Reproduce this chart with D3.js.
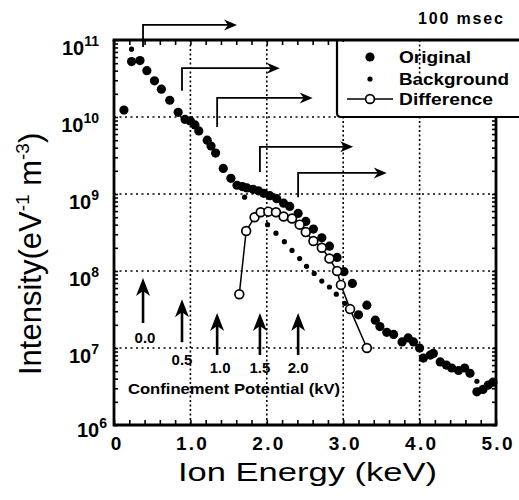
<!DOCTYPE html>
<html>
<head>
<meta charset="utf-8">
<script src="https://cdn.jsdelivr.net/npm/d3@7"></script>
<style>
  body { margin: 0; background: #fff; }
  svg { display: block; }
  text { fill: #000; }
</style>
</head>
<body>
<svg id="chart" width="519" height="500"></svg>
<script>
// Ion energy spectra at 100 msec: measured, background fit and their difference.
const originalEnergy = [0.13, 0.23, 0.34, 0.43, 0.53, 0.62, 0.73, 0.84, 0.93, 1.00, 1.06, 1.11, 1.22, 1.27, 1.33,
  1.43, 1.53, 1.61, 1.68, 1.74, 1.82, 1.89, 1.96, 2.04, 2.13, 2.22, 2.30, 2.41, 2.51, 2.61, 2.72, 2.82, 2.92,
  3.01, 3.12, 3.20, 3.31, 3.42, 3.48, 3.57, 3.66, 3.77, 3.85, 3.92, 4.00, 4.05, 4.14, 4.18, 4.27, 4.35, 4.42,
  4.51, 4.59, 4.66, 4.75, 4.83, 4.90, 4.96];
const originalIntensity = [1.23e10, 5.25e10, 5.4e10, 4.0e10, 2.95e10, 2.3e10, 1.65e10, 1.15e10, 9.3e9, 8.9e9, 7.9e9,
  6.6e9, 5.0e9, 4.2e9, 3.4e9, 2.15e9, 1.6e9, 1.3e9, 1.25e9, 1.2e9, 1.15e9, 1.1e9, 1.02e9, 9.5e8, 8.7e8, 7.6e8,
  6.9e8, 5.6e8, 4.4e8, 3.5e8, 2.7e8, 2.1e8, 1.5e8, 9.8e7, 6.9e7, 2.7e7, 3.6e7, 2.3e7, 1.9e7, 1.6e7, 1.5e7, 1.2e7,
  1.35e7, 1.2e7, 1.0e7, 7.4e6, 8.1e6, 8.5e6, 6.6e6, 6.0e6, 5.5e6, 5.1e6, 5.5e6, 4.7e6, 2.7e6, 2.9e6, 3.3e6, 3.6e6];

const backgroundEnergy = [0.23, 1.71, 2.01, 2.12, 2.23, 2.33, 2.43, 2.52, 2.62, 2.72, 2.82, 2.91, 3.02, 4.75];
const backgroundIntensity = [7.6e10, 9.1e8, 4.0e8, 3.1e8, 2.4e8, 1.85e8, 1.45e8, 1.15e8, 9.3e7, 7.4e7, 6.2e7,
  5.0e7, 3.8e7, 3.7e6];

const differenceEnergy = [1.64, 1.73, 1.84, 1.92, 2.02, 2.12, 2.22, 2.33, 2.43, 2.51, 2.61, 2.72, 2.82, 2.92,
  2.97, 3.09, 3.31];
const differenceIntensity = [5.0e7, 3.3e8, 5.0e8, 5.8e8, 5.9e8, 5.8e8, 5.1e8, 4.8e8, 4.0e8, 3.2e8, 2.45e8,
  2.0e8, 1.45e8, 1.0e8, 6.6e7, 3.2e7, 1.0e7];

// Confinement potentials (kV) and the ion energy each one marks
const potentialLabels = ["0.0", "0.5", "1.0", "1.5", "2.0"];
const potentialEnergy = [0.38, 0.89, 1.35, 1.91, 2.41];
// upward arrows: tip intensity of each arrow
const arrowTipIntensity = [8.1e7, 4.3e7, 2.85e7, 2.85e7, 2.85e7];
// bracket arrows: top and foot intensity, and energy where the arrow ends
const bracketTop = [1.57e11, 4.3e10, 1.77e10, 4.1e9, 1.88e9];
const bracketFoot = [8.1e10, 2.2e10, 7.4e9, 1.93e9, 9.1e8];
const bracketEnd = [1.61, 2.17, 2.60, 3.13, 3.57];

const xTicks = [0, 1, 2, 3, 4, 5];
const xTickLabels = ["0", "1.0", "2.0", "3.0", "4.0", "5.0"];
const yTickExponents = [6, 7, 8, 9, 10, 11];

const svg = d3.select("#chart");
const x = d3.scaleLinear().domain([0, 5]).range([114, 496]);
const y = d3.scaleLog().domain([1e6, 1e11]).range([425, 40]);
const [x0, x1] = x.range();
const [yB, yT] = y.range();
const legendBottom = y(1e10);
const legendLeft = 337;

// dotted grid
const grid = svg.append("g").attr("stroke", "#000").attr("stroke-width", 1.6);
grid.selectAll("line.v").data([1, 2, 3, 4]).join("line")
  .attr("stroke-dasharray", "2,2.5")
  .attr("x1", d => x(d)).attr("x2", d => x(d)).attr("y1", yT).attr("y2", yB);
grid.selectAll("line.h").data([1e7, 1e8, 1e9, 1e10]).join("line")
  .attr("stroke-dasharray", "2,3.5")
  .attr("x1", x0).attr("x2", x1).attr("y1", d => y(d)).attr("y2", d => y(d));

// minor / major ticks pointing inward
const minorLog = [];
for (let e = 6; e < 11; e++) for (let m = 1; m < 10; m++) minorLog.push(m * Math.pow(10, e));
minorLog.push(1e11);
const minorLin = d3.range(0, 5.001, 0.2);
function styleAxis(g) {
  g.select(".domain").remove();
  g.selectAll("line").attr("stroke", "#000").attr("stroke-width", 1.6);
  g.selectAll("text").remove();
}
svg.append("g").attr("transform", `translate(${x0},0)`)
  .call(d3.axisLeft(y).tickValues(minorLog).tickSize(-4).tickFormat("")).call(styleAxis);
svg.append("g").attr("transform", `translate(${x1},0)`)
  .call(d3.axisRight(y).tickValues(minorLog.filter(v => v < 1e10)).tickSize(-4).tickFormat("")).call(styleAxis);
svg.append("g").attr("transform", `translate(0,${yB})`)
  .call(d3.axisBottom(x).tickValues(minorLin).tickSize(-5).tickFormat("")).call(styleAxis);
svg.append("g").attr("transform", `translate(0,${yT})`)
  .call(d3.axisTop(x).tickValues(minorLin.filter(v => v < 2.9)).tickSize(-5).tickFormat("")).call(styleAxis);

// legend box (joins the top of the frame)
svg.append("path")
  .attr("d", `M${legendLeft},${yT} V${legendBottom - 4} Q${legendLeft},${legendBottom} ${legendLeft + 4},${legendBottom} H522`)
  .attr("fill", "#fff").attr("stroke", "#000").attr("stroke-width", 2.2);

// frame
svg.append("path")
  .attr("d", `M${x0},${yT} V${yB} H${x1} V${legendBottom}`)
  .attr("fill", "none").attr("stroke", "#000").attr("stroke-width", 2.8);
svg.append("line").attr("x1", x0 - 1.4).attr("x2", 522).attr("y1", yT).attr("y2", yT)
  .attr("stroke", "#000").attr("stroke-width", 2.8);

// tick labels
const font = "'Liberation Sans', Arial, sans-serif";
svg.append("g").selectAll("text").data(xTicks).join("text")
  .attr("x", (d, i) => i === 0 ? x(d) + 2 : x(d) + 1).attr("y", 450)
  .attr("text-anchor", "middle").attr("font-family", font).attr("font-weight", "bold")
  .attr("font-size", 19).attr("textLength", (d, i) => i === 0 ? null : 31)
  .text((d, i) => xTickLabels[i]);

const yl = svg.append("g").selectAll("text").data(yTickExponents).join("text")
  .attr("x", d => d === 6 ? 107 : 99).attr("y", d => y(Math.pow(10, d)) + (d === 6 ? 12 : 15))
  .attr("text-anchor", "end").attr("font-family", font).attr("font-weight", "bold").attr("font-size", 20);
yl.append("tspan").text("10");
yl.append("tspan").attr("dy", -9).attr("font-size", 14).text(d => d);

// axis titles
svg.append("text").attr("x", 178).attr("y", 481).attr("font-family", font).attr("font-size", 26)
  .attr("textLength", 259).attr("lengthAdjust", "spacingAndGlyphs").text("Ion Energy (keV)");
const yt = svg.append("text").attr("transform", "translate(41,375) rotate(-90)")
  .attr("font-family", font).attr("font-size", 31);
yt.append("tspan").text("Intensity(eV");
yt.append("tspan").attr("dy", -12).attr("font-size", 19).text("-1");
yt.append("tspan").attr("dy", 12).text(" m");
yt.append("tspan").attr("dy", -12).attr("font-size", 19).text("-3");
yt.append("tspan").attr("dy", 12).text(")");

svg.append("text").attr("x", 418).attr("y", 24).attr("font-family", font).attr("font-weight", "bold")
  .attr("font-size", 16).attr("textLength", 85).text("100 msec");

// bracket arrows along the top
const br = svg.append("g");
potentialEnergy.forEach((e, i) => {
  const xs = x(e), yt0 = y(bracketTop[i]), xe = x(bracketEnd[i]);
  br.append("path").attr("d", `M${xs},${y(bracketFoot[i])} V${yt0} H${xe - 8}`)
    .attr("fill", "none").attr("stroke", "#000").attr("stroke-width", 1.8);
  br.append("path").attr("d", `M${xe},${yt0} L${xe - 13},${yt0 - 5.5} L${xe - 9},${yt0} L${xe - 13},${yt0 + 5.5} Z`)
    .attr("fill", "#000");
});

// upward arrows marking the confinement potentials
const arr = svg.append("g");
const arrowLen = [45, 43, 42, 42, 42];
const labelDrop = [20, 23, 18, 18, 18];
potentialEnergy.forEach((e, i) => {
  const xs = x(e), tip = y(arrowTipIntensity[i]), foot = tip + arrowLen[i];
  arr.append("line").attr("x1", xs).attr("x2", xs).attr("y1", tip + 8).attr("y2", foot)
    .attr("stroke", "#000").attr("stroke-width", 2.6);
  arr.append("path").attr("d", `M${xs},${tip} L${xs - 7},${tip + 18} L${xs},${tip + 13} L${xs + 7},${tip + 18} Z`)
    .attr("fill", "#000");
  arr.append("text").attr("x", xs + (i === 0 ? 2 : i === 2 ? 3 : 0)).attr("y", foot + labelDrop[i])
    .attr("text-anchor", "middle").attr("font-family", font).attr("font-weight", "bold")
    .attr("font-size", 15).text(potentialLabels[i]);
});
svg.append("text").attr("x", 128).attr("y", 394).attr("font-family", font).attr("font-weight", "bold")
  .attr("font-size", 15).attr("textLength", 212).attr("lengthAdjust", "spacingAndGlyphs")
  .text("Confinement Potential (kV)");

// data
const orig = d3.zip(originalEnergy, originalIntensity);
const bg = d3.zip(backgroundEnergy, backgroundIntensity);
const diff = d3.zip(differenceEnergy, differenceIntensity);

svg.append("g").selectAll("circle").data(orig).join("circle")
  .attr("cx", d => x(d[0])).attr("cy", d => y(d[1])).attr("r", 4.6).attr("fill", "#000");
svg.append("g").selectAll("circle").data(bg).join("circle")
  .attr("cx", d => x(d[0])).attr("cy", d => y(d[1])).attr("r", 2.6).attr("fill", "#000");
svg.append("path").datum(diff)
  .attr("d", d3.line().x(d => x(d[0])).y(d => y(d[1])))
  .attr("fill", "none").attr("stroke", "#000").attr("stroke-width", 1.5);
svg.append("g").selectAll("circle").data(diff).join("circle")
  .attr("cx", d => x(d[0])).attr("cy", d => y(d[1])).attr("r", 4.4)
  .attr("fill", "#fff").attr("stroke", "#000").attr("stroke-width", 1.7);

// legend entries
const lg = svg.append("g");
lg.append("circle").attr("cx", 370).attr("cy", 57).attr("r", 4.6).attr("fill", "#000");
lg.append("circle").attr("cx", 370).attr("cy", 79).attr("r", 2.6).attr("fill", "#000");
lg.append("line").attr("x1", 347).attr("x2", 393).attr("y1", 99).attr("y2", 99)
  .attr("stroke", "#000").attr("stroke-width", 1.5);
lg.append("circle").attr("cx", 370).attr("cy", 99).attr("r", 4.4)
  .attr("fill", "#fff").attr("stroke", "#000").attr("stroke-width", 1.7);
[["Original", 63, 72], ["Background", 85, 110], ["Difference", 105, 94]].forEach(([t, yy, w]) => {
  lg.append("text").attr("x", 399).attr("y", yy).attr("font-family", font).attr("font-weight", "bold")
    .attr("font-size", 17).attr("textLength", w).attr("lengthAdjust", "spacingAndGlyphs").text(t);
});
</script>
</body>
</html>
